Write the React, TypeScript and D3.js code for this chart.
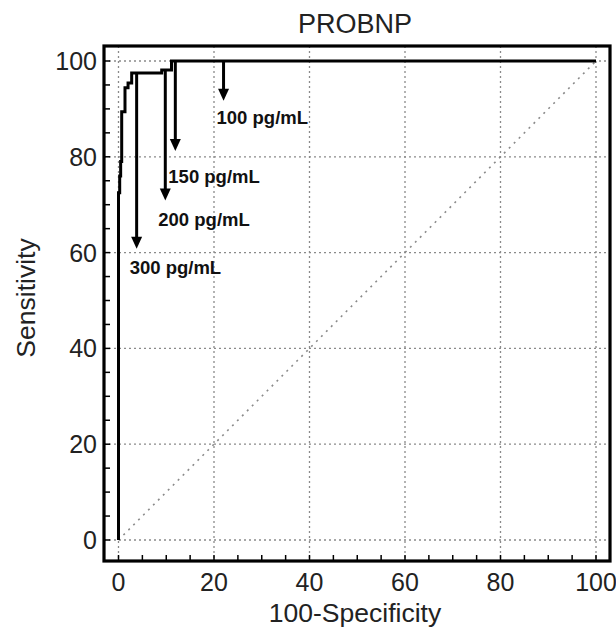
import React from "react";
import * as d3 from "d3";

// ROC curve (100-Specificity, Sensitivity)
const rocFpr = [0, 0, 0.25, 0.25, 0.45, 0.45, 0.67, 0.67, 1.36, 1.36, 2.0, 2.0, 2.76, 2.76, 9.05, 9.05, 11.1, 11.1, 100];
const rocSens = [0, 72.5, 72.5, 76, 76, 79, 79, 89.4, 89.4, 94.4, 94.4, 95.4, 95.4, 97.5, 97.5, 98.1, 98.1, 100, 100];

// Cut-off annotations
const cutoffLabels = ["100 pg/mL", "150 pg/mL", "200 pg/mL", "300 pg/mL"];
const cutoffFpr = [22.0, 11.9, 9.8, 3.8];
const cutoffArrowTop = [100, 100, 98.1, 97.5];
const cutoffArrowTip = [91.7, 81.2, 70.9, 60.8];
const cutoffLabelSens = [88.3, 75.9, 67.0, 57.0];

const xTicks = [0, 20, 40, 60, 80, 100];
const yTicks = [0, 20, 40, 60, 80, 100];
const minorTicks = d3.range(0, 101, 5);

const title = "PROBNP";
const xTitle = "100-Specificity";
const yTitle = "Sensitivity";

export default function App() {
  const W = 616, H = 630;
  const frame = { x: 104, y: 46, w: 506, h: 515 };
  const x = d3.scaleLinear().domain([0, 100]).range([118.5, 596]);
  const y = d3.scaleLinear().domain([0, 100]).range([540, 61]);
  const font = "'Liberation Sans', Arial, Helvetica, sans-serif";

  const line = d3.line<number>().x((_, i) => x(rocFpr[i])).y((d) => y(d));
  const rocPath = line(rocSens) || "";

  const fx0 = frame.x, fx1 = frame.x + frame.w, fy0 = frame.y, fy1 = frame.y + frame.h;

  return (
    <svg width={W} height={H} style={{ position: "absolute", left: 0, top: 0, background: "#fff" }} fontFamily={font}>
      <rect x={0} y={0} width={W} height={H} fill="#fff" />
      {/* grid */}
      {xTicks.map((t) => (
        <line key={"gx" + t} x1={x(t)} x2={x(t)} y1={fy0} y2={fy1} stroke="#8a8a8a" strokeWidth={1.3} strokeDasharray="2,3" />
      ))}
      {yTicks.map((t) => (
        <line key={"gy" + t} x1={fx0} x2={fx1} y1={y(t)} y2={y(t)} stroke="#8a8a8a" strokeWidth={1.3} strokeDasharray="2,3" />
      ))}
      {/* diagonal */}
      <line x1={x(0)} y1={y(0)} x2={x(100)} y2={y(100)} stroke="#8a8a8a" strokeWidth={1.6} strokeDasharray="2,5" />
      {/* minor ticks */}
      {minorTicks.map((t) => (
        <line key={"tx" + t} x1={x(t)} x2={x(t)} y1={fy1} y2={fy1 - 6} stroke="#000" strokeWidth={1.5} />
      ))}
      {minorTicks.map((t) => (
        <line key={"ty" + t} x1={fx0} x2={fx0 + 6} y1={y(t)} y2={y(t)} stroke="#000" strokeWidth={1.5} />
      ))}
      {/* ROC curve */}
      <path d={rocPath} fill="none" stroke="#000" strokeWidth={3} strokeLinejoin="miter" />
      {/* arrows */}
      {cutoffLabels.map((lab, i) => {
        const ax = x(cutoffFpr[i]);
        const top = y(cutoffArrowTop[i]);
        const tip = y(cutoffArrowTip[i]);
        const hh = 12, hw = 5.5;
        return (
          <g key={lab}>
            <line x1={ax} x2={ax} y1={top} y2={tip - hh + 1} stroke="#000" strokeWidth={3} />
            <path d={`M${ax - hw},${tip - hh}L${ax + hw},${tip - hh}L${ax},${tip}Z`} fill="#000" />
            <text x={ax - 7} y={y(cutoffLabelSens[i])} dy="0.36em" fontSize={18.5} fontWeight="bold" fill="#111">
              {lab}
            </text>
          </g>
        );
      })}
      {/* frame */}
      <rect x={fx0} y={fy0} width={frame.w} height={frame.h} fill="none" stroke="#000" strokeWidth={3.2} />
      {/* tick labels */}
      {xTicks.map((t) => (
        <text key={"lx" + t} x={x(t)} y={591} textAnchor="middle" fontSize={25} fill="#222">
          {t}
        </text>
      ))}
      {yTicks.map((t) => (
        <text key={"ly" + t} x={97} y={y(t)} dy="0.36em" textAnchor="end" fontSize={25} fill="#222">
          {t}
        </text>
      ))}
      {/* titles */}
      <text x={355} y={33} textAnchor="middle" fontSize={27} fill="#222">{title}</text>
      <text x={355} y={622} textAnchor="middle" fontSize={26.5} fill="#222">{xTitle}</text>
      <text transform={`translate(35,${298}) rotate(-90)`} textAnchor="middle" fontSize={26.5} fill="#222">{yTitle}</text>
    </svg>
  );
}
